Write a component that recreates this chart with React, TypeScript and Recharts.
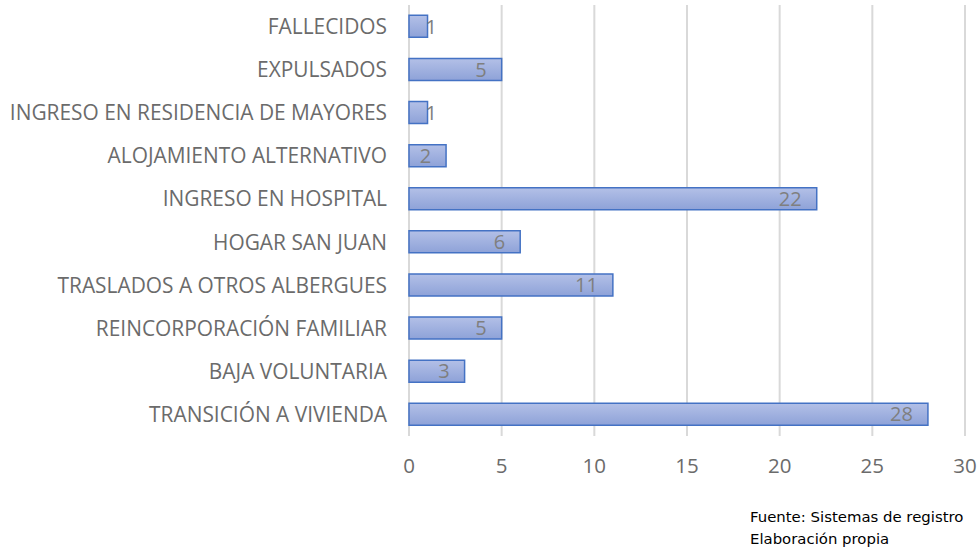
import { BarChart, Bar, XAxis, YAxis, CartesianGrid, LabelList } from "recharts";

const categories = [
  "FALLECIDOS",
  "EXPULSADOS",
  "INGRESO EN RESIDENCIA DE MAYORES",
  "ALOJAMIENTO ALTERNATIVO",
  "INGRESO EN HOSPITAL",
  "HOGAR SAN JUAN",
  "TRASLADOS A OTROS ALBERGUES",
  "REINCORPORACIÓN FAMILIAR",
  "BAJA VOLUNTARIA",
  "TRANSICIÓN A VIVIENDA",
];
const values = [1, 5, 1, 2, 22, 6, 11, 5, 3, 28];
const xTicks = [0, 5, 10, 15, 20, 25, 30];

const data = categories.map((name, i) => ({ name, value: values[i] }));

const FONT = "'Open Sans', sans-serif";

function ValueLabel(props: any) {
  const { x, y, width, height, value } = props;
  const small = width < 30;
  return (
    <text
      x={small ? x + width - 2 : x + width - 15}
      y={y + height / 2}
      dy="0.36em"
      textAnchor={small ? "start" : "end"}
      fill="#7f7f7f"
      fontSize={20}
      fontFamily={FONT}
    >
      {value}
    </text>
  );
}

function CatTick(props: any) {
  const { x, y, payload } = props;
  return (
    <text x={x - 14} y={y} dy="0.36em" textAnchor="end" fill="#6b6b6b" fontSize={20.9} fontFamily={FONT}>
      {payload.value}
    </text>
  );
}

function NumTick(props: any) {
  const { x, y, payload } = props;
  return (
    <text x={x} y={y + 22} dy="0.36em" textAnchor="middle" fill="#6b6b6b" fontSize={20.5} fontFamily={FONT}>
      {payload.value}
    </text>
  );
}

export default function App() {
  return (
    <div style={{ position: "absolute", left: 0, top: 0, width: 979, height: 548, background: "#fff" }}>
      <BarChart
        width={979}
        height={548}
        data={data}
        layout="vertical"
        margin={{ top: 5, right: 14, bottom: 62, left: 0 }}
        barCategoryGap="24%"
      >
        <defs>
          <linearGradient id="barFill" x1="0" y1="0" x2="0" y2="1">
            <stop offset="0%" stopColor="#b3c0e7" />
            <stop offset="100%" stopColor="#8ea2d8" />
          </linearGradient>
        </defs>
        <CartesianGrid horizontal={false} stroke="#d9d9d9" strokeWidth={2} />
        <XAxis
          type="number"
          domain={[0, 30]}
          ticks={xTicks}
          axisLine={false}
          tickLine={false}
          height={50}
          tick={<NumTick />}
          interval={0}
        />
        <YAxis
          type="category"
          dataKey="name"
          width={409}
          axisLine={false}
          tickLine={false}
          tick={<CatTick />}
          interval={0}
        />
        <Bar dataKey="value" fill="url(#barFill)" stroke="#4472c4" strokeWidth={1.5} isAnimationActive={false}>
          <LabelList dataKey="value" content={<ValueLabel />} />
        </Bar>
      </BarChart>
      <div
        style={{
          position: "absolute",
          left: 750,
          top: 506,
          fontFamily: "'DejaVu Sans', sans-serif",
          fontSize: 14.9,
          lineHeight: "22px",
          color: "#000",
        }}
      >
        Fuente: Sistemas de registro
        <br />
        Elaboración propia
      </div>
    </div>
  );
}
